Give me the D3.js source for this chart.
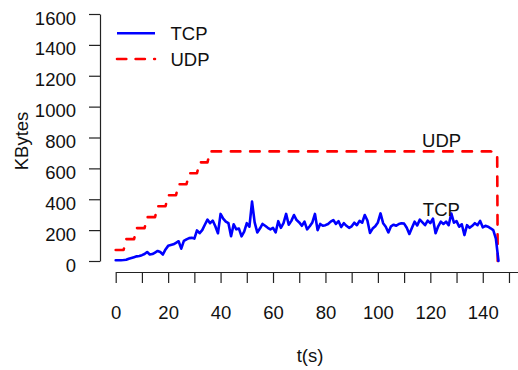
<!DOCTYPE html>
<html>
<head>
<meta charset="utf-8">
<script src="https://cdn.jsdelivr.net/npm/d3@7"></script>
<style>
  html, body { margin: 0; padding: 0; background: #fff; }
  svg { display: block; font-family: "Liberation Sans", Arial, Helvetica, sans-serif; }
</style>
</head>
<body>
<svg id="chart" width="518" height="370"></svg>
<script>
// Throughput per second (KBytes), one TCP sample per second t = 0..146
const tcpValues = [
  5, 5, 5, 6, 8, 15, 20, 25, 30, 33,
  38, 45, 58, 42, 45, 55, 65, 58, 42, 75,
  98, 103, 108, 118, 128, 80, 130, 140, 148, 150,
  145, 198, 180, 200, 235, 268, 245, 262, 225, 180,
  305, 275, 255, 245, 160, 238, 205, 210, 160, 190,
  245, 222, 385, 250, 185, 210, 240, 228, 215, 205,
  215, 185, 258, 215, 245, 305, 235, 260, 298, 265,
  250, 228, 255, 205, 225, 250, 305, 200, 240, 228,
  232, 240, 255, 265, 240, 258, 220, 245, 228, 215,
  225, 248, 232, 260, 248, 298, 262, 182, 210, 225,
  250, 308, 245, 222, 185, 225, 235, 228, 240, 245,
  242, 215, 175, 215, 255, 230, 268, 250, 232, 262,
  245, 275, 180, 225, 255, 240, 255, 232, 308, 248,
  258, 222, 238, 168, 232, 215, 228, 245, 232, 260,
  218, 228, 222, 212, 200, 145, 0
];

// UDP send rate: stepped ramp, then constant, then stop (time s, KBytes)
const udpTimes  = [0, 3, 4, 7, 8, 11, 12, 15, 16, 19, 20, 23, 24, 27, 28, 31, 32, 35, 36, 143, 144.8, 145.5, 145.7];
const udpValues = [71, 71, 142, 142, 213, 213, 284, 284, 355, 355, 426, 426, 497, 497, 568, 568, 639, 639, 710, 710, 705, 690, 0];

const yTicks = [0, 200, 400, 600, 800, 1000, 1200, 1400, 1600];
const xTicks = [0, 10, 20, 30, 40, 50, 60, 70, 80, 90, 100, 110, 120, 130, 140, 150, 160];
const xLabelled = [0, 20, 40, 60, 80, 100, 120, 140];

const series = [
  { name: "TCP", color: "#0000ff", dash: null },
  { name: "UDP", color: "#ff0000", dash: "9.5,9.8" }
];

const svg = d3.select("#chart");
const fontSize = 18.5;

const x = d3.scaleLinear().domain([0, 160]).range([115.7, 535.2]);
const y = d3.scaleLinear().domain([0, 1600]).range([261, 14]);

const tcpData = tcpValues.map((v, i) => ({ t: i, v }));
const udpData = udpTimes.map((t, i) => ({ t, v: udpValues[i] }));

const line = d3.line().x(d => x(d.t)).y(d => y(d.v));

// Axes
const yAxis = svg.append("g")
  .attr("transform", "translate(100,0)")
  .call(d3.axisLeft(y).tickValues(yTicks).tickSize(11).tickSizeOuter(0).tickPadding(13)
    .tickFormat(d3.format("d")));

const xAxis = svg.append("g")
  .attr("transform", "translate(0,272)")
  .call(d3.axisBottom(x).tickValues(xTicks).tickSize(11).tickSizeOuter(0)
    .tickFormat(d => xLabelled.includes(d) ? d : ""));

[yAxis, xAxis].forEach(g => {
  g.select(".domain").attr("stroke", "#222").attr("stroke-width", 1.2);
  g.selectAll(".tick line").attr("stroke", "#222").attr("stroke-width", 1.2);
  g.selectAll(".tick text")
    .attr("fill", "#111")
    .style("font-size", fontSize + "px")
    .style("font-family", "'Liberation Sans', Arial, sans-serif");
});
yAxis.selectAll(".tick text").attr("dy", "10px");
xAxis.selectAll(".tick text").attr("y", 47).attr("dy", 0);

// Axis titles
svg.append("text")
  .attr("transform", "translate(27.5,141) rotate(-90)")
  .attr("text-anchor", "middle")
  .style("font-size", fontSize + "px")
  .attr("fill", "#111")
  .text("KBytes");

svg.append("text")
  .attr("x", 310).attr("y", 362)
  .attr("text-anchor", "middle")
  .style("font-size", fontSize + "px")
  .attr("fill", "#111")
  .text("t(s)");

// Data lines
svg.append("path")
  .datum(udpData)
  .attr("d", line)
  .attr("fill", "none")
  .attr("stroke", series[1].color)
  .attr("stroke-width", 2.6)
  .attr("stroke-linecap", "round")
  .attr("stroke-linejoin", "round")
  .attr("stroke-dasharray", series[1].dash);

svg.append("path")
  .datum(tcpData)
  .attr("d", line)
  .attr("fill", "none")
  .attr("stroke", series[0].color)
  .attr("stroke-width", 2.6)
  .attr("stroke-linecap", "round")
  .attr("stroke-linejoin", "round");

// In-plot line labels
svg.append("text")
  .attr("x", x(124.3)).attr("y", y(780))
  .attr("dy", "0.36em")
  .attr("text-anchor", "middle")
  .style("font-size", fontSize + "px")
  .attr("fill", "#111")
  .text("UDP");

svg.append("text")
  .attr("x", x(124.2)).attr("y", y(334))
  .attr("dy", "0.36em")
  .attr("text-anchor", "middle")
  .style("font-size", fontSize + "px")
  .attr("fill", "#111")
  .text("TCP");

// Legend
const legend = svg.append("g");
series.forEach((s, i) => {
  const ly = 33.3 + i * 25.7;
  legend.append("line")
    .attr("x1", 117).attr("x2", 155)
    .attr("y1", ly).attr("y2", ly)
    .attr("stroke", s.color)
    .attr("stroke-width", 2.6)
    .attr("stroke-linecap", s.dash ? "round" : "butt")
    .attr("stroke-dasharray", s.dash ? "9.3,9.3" : null);
  legend.append("text")
    .attr("x", 170.5).attr("y", ly)
    .attr("dy", "0.36em")
    .style("font-size", fontSize + "px")
    .attr("fill", "#111")
    .text(s.name);
});
</script>
</body>
</html>
